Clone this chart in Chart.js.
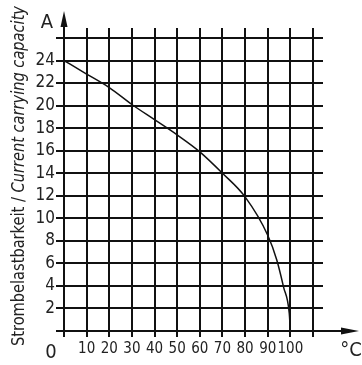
<!DOCTYPE html>
<html>
<head>
<meta charset="utf-8">
<script src="https://cdn.jsdelivr.net/npm/chart.js@4/dist/chart.umd.min.js"></script>
<style>
  html, body { margin: 0; padding: 0; background: #fff; }
  #wrap { width: 362px; height: 365px; position: relative; }
</style>
</head>
<body>
<div id="wrap"><canvas id="chart"></canvas></div>
<script>
// data
var temps = [0, 10, 20, 30, 40, 50, 60, 70, 80, 90, 94, 97, 99.5, 100];
var amps = [24, 22.8, 21.6, 20.1, 18.75, 17.4, 15.9, 14.0, 11.9, 8.5, 6.3, 3.9, 1.6, 0];
var xTicks = [10, 20, 30, 40, 50, 60, 70, 80, 90, 100];
var yTicks = [2, 4, 6, 8, 10, 12, 14, 16, 18, 20, 22, 24];

var FONT = '"DejaVu Sans Condensed", "Liberation Sans Narrow", sans-serif';
var INK = '#111';

var points = temps.map(function (t, i) { return { x: t, y: amps[i] }; });

// arrows, grid overhangs and the free-standing labels
var extras = {
  id: 'extras',
  afterDatasetsDraw: function (chart) {
    var ctx = chart.ctx;
    var xs = chart.scales.x, ys = chart.scales.y;
    var a = chart.chartArea;
    ctx.save();
    ctx.strokeStyle = INK;
    ctx.fillStyle = INK;
    ctx.lineWidth = 2;

    // vertical lines poke out above the top line
    for (var v = 10; v <= 110; v += 10) {
      var px = Math.round(xs.getPixelForValue(v));
      ctx.beginPath();
      ctx.moveTo(px, a.top);
      ctx.lineTo(px, a.top - 10);
      ctx.stroke();
    }
    // horizontal lines poke out to the right
    for (var h = 2; h <= 26; h += 2) {
      var py = Math.round(ys.getPixelForValue(h));
      ctx.beginPath();
      ctx.moveTo(a.right, py);
      ctx.lineTo(a.right + 10, py);
      ctx.stroke();
    }

    // y axis arrow
    var x0 = Math.round(xs.getPixelForValue(0));
    ctx.beginPath();
    ctx.moveTo(x0, a.top);
    ctx.lineTo(x0, 22);
    ctx.stroke();
    ctx.beginPath();
    ctx.moveTo(x0, 11);
    ctx.lineTo(x0 - 3.5, 27);
    ctx.lineTo(x0 + 3.5, 27);
    ctx.closePath();
    ctx.fill();

    // x axis arrow
    var y0 = Math.round(ys.getPixelForValue(0));
    ctx.beginPath();
    ctx.moveTo(a.right, y0);
    ctx.lineTo(345, y0);
    ctx.stroke();
    ctx.beginPath();
    ctx.moveTo(359, y0);
    ctx.lineTo(341, y0 - 3.5);
    ctx.lineTo(341, y0 + 3.5);
    ctx.closePath();
    ctx.fill();

    // unit labels and origin
    ctx.fillStyle = '#222';
    ctx.textBaseline = 'alphabetic';
    ctx.textAlign = 'center';
    ctx.font = '20px ' + FONT;
    ctx.fillText('A', 47, 28);
    ctx.fillText('0', 51, 358);
    ctx.fillText('°C', 351, 356);

    // rotated axis title, second half in italics, squeezed to the reference length
    var part1 = 'Strombelastbarkeit / ';
    var part2 = 'Current carrying capacity';
    ctx.font = '18px ' + FONT;
    var w1 = ctx.measureText(part1).width;
    ctx.font = 'italic 18px ' + FONT;
    var w2 = ctx.measureText(part2).width;
    var squeeze = 340 / (w1 + w2);
    ctx.translate(24, 346);
    ctx.rotate(-Math.PI / 2);
    ctx.scale(squeeze, 1);
    ctx.textAlign = 'left';
    ctx.font = '18px ' + FONT;
    ctx.fillText(part1, 0, 0);
    ctx.font = 'italic 18px ' + FONT;
    ctx.fillText(part2, w1, 0);
    ctx.restore();
  }
};

var ctx = document.getElementById('chart');
var chart = new Chart(ctx, {
  type: 'line',
  data: {
    datasets: [{
      data: points,
      borderColor: INK,
      borderWidth: 1.5,
      pointRadius: 0,
      fill: false,
      cubicInterpolationMode: 'monotone'
    }]
  },
  options: {
    responsive: true,
    maintainAspectRatio: false,
    animation: false,
    layout: { padding: { top: 38, right: 49, left: 0, bottom: 0 } },
    plugins: { legend: { display: false }, tooltip: { enabled: false } },
    scales: {
      x: {
        type: 'linear',
        min: 0,
        max: 110,
        afterFit: function (s) { s.height = 34; },
        afterBuildTicks: function (s) {
          s.ticks = [0].concat(xTicks, [110]).map(function (v) { return { value: v }; });
        },
        ticks: {
          padding: 3,
          color: '#222',
          font: { family: FONT, size: 15 },
          maxRotation: 0,
          autoSkip: false,
          callback: function (v) { return xTicks.indexOf(v) >= 0 ? String(v) : ''; }
        },
        grid: { color: INK, lineWidth: 2, tickLength: 6, drawTicks: true },
        border: { color: INK, width: 2 }
      },
      y: {
        type: 'linear',
        min: 0,
        max: 26,
        afterFit: function (s) { s.width = 64; },
        afterBuildTicks: function (s) {
          s.ticks = [0].concat(yTicks, [26]).map(function (v) { return { value: v }; });
        },
        ticks: {
          padding: 1,
          color: '#222',
          font: { family: FONT, size: 17 },
          autoSkip: false,
          callback: function (v) { return yTicks.indexOf(v) >= 0 ? String(v) : ''; }
        },
        grid: { color: INK, lineWidth: 2, tickLength: 8, drawTicks: true },
        border: { color: INK, width: 2 }
      }
    }
  },
  plugins: [extras]
});
</script>
</body>
</html>
